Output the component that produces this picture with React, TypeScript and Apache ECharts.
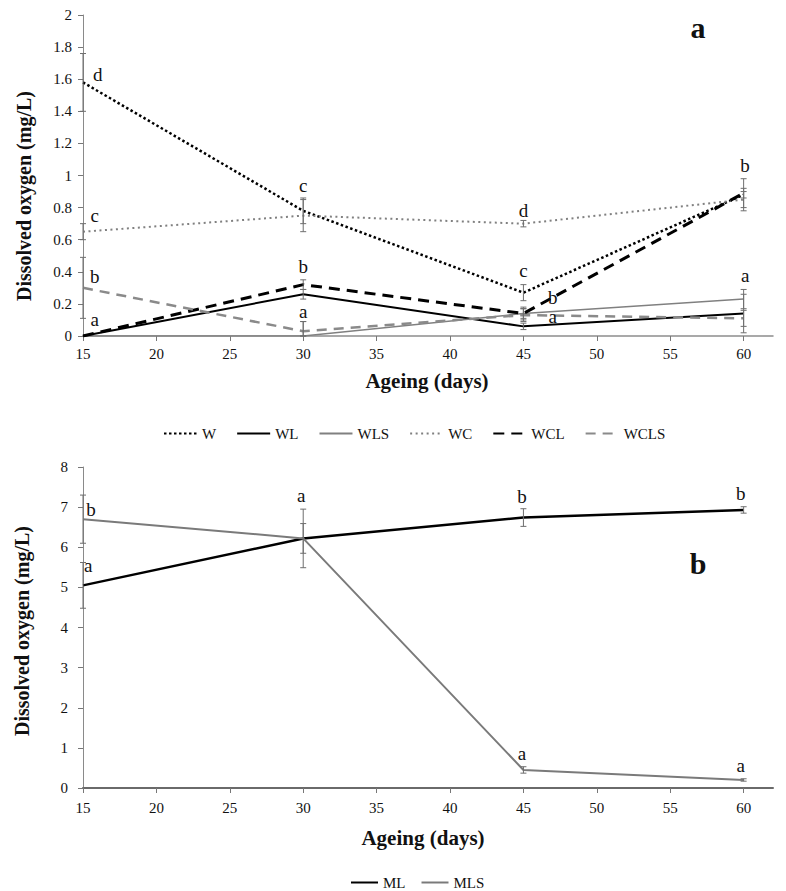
import React, { useEffect, useRef } from "react";
import * as echarts from "echarts";

// ---------- data ----------
const days = [15, 30, 45, 60];
const xTicks = [15, 20, 25, 30, 35, 40, 45, 50, 55, 60];

// panel a
const W = [1.58, 0.78, 0.27, 0.88];
const W_ERR = [0.18, 0.08, 0.05, 0.1];
const WL = [0, 0.26, 0.06, 0.14];
const WL_ERR = [0, 0.03, 0.02, 0.12];
const WLS = [0, 0, 0.14, 0.23];
const WLS_ERR = [0, 0.09, 0.03, 0.06];
const WC = [0.65, 0.75, 0.7, 0.85];
const WC_ERR = [0.05, 0.1, 0.02, 0.05];
const WCL = [0, 0.32, 0.14, 0.89];
const WCL_ERR = [0, 0.03, 0.04, 0.03];
const WCLS = [0.3, 0.03, 0.13, 0.11];
const WCLS_ERR = [0.19, 0.06, 0.04, 0.05];

// panel b
const ML = [5.05, 6.22, 6.74, 6.93];
const ML_ERR = [0.57, 0.37, 0.22, 0.08];
const MLS = [6.7, 6.22, 0.45, 0.2];
const MLS_ERR = [0.6, 0.73, 0.08, 0.03];

// significance letters: [day, value, letter]
const lettersA: [number, number, string][] = [
  [16.0, 1.63, "d"], [15.8, 0.75, "c"], [15.8, 0.37, "b"], [15.8, 0.1, "a"],
  [30.0, 0.94, "c"], [30.0, 0.43, "b"], [30.0, 0.155, "a"],
  [45.0, 0.785, "d"], [45.0, 0.41, "c"], [47.0, 0.24, "b"], [47.0, 0.12, "a"],
  [60.1, 1.065, "b"], [60.1, 0.38, "a"],
];
const lettersB: [number, number, string][] = [
  [15.55, 6.94, "b"], [15.35, 5.55, "a"],
  [29.86, 7.29, "a"],
  [44.9, 7.26, "b"], [44.9, 0.85, "a"],
  [59.8, 7.34, "b"], [59.8, 0.57, "a"],
];

const SERIF = "Liberation Serif";
const INK = "#111";
const GRAY = "#808080";

const pts = (ys: number[]) => days.map((d, i) => [d, ys[i]]);
const errs = (ys: number[], es: number[]) => days.map((d, i) => [d, ys[i], es[i]]);

function errorRender(params: any, api: any) {
  const x = api.value(0);
  const y = api.value(1);
  const e = api.value(2);
  if (!e) return null;
  const top = api.coord([x, y + e]);
  const bot = api.coord([x, Math.max(0, y - e)]);
  const hw = 3;
  const style = { stroke: "#6e6e6e", lineWidth: 1 };
  return {
    type: "group",
    children: [
      { type: "line", shape: { x1: top[0], y1: top[1], x2: bot[0], y2: bot[1] }, style },
      { type: "line", shape: { x1: top[0] - hw, y1: top[1], x2: top[0] + hw, y2: top[1] }, style },
      { type: "line", shape: { x1: bot[0] - hw, y1: bot[1], x2: bot[0] + hw, y2: bot[1] }, style },
    ],
  };
}

function letterRender(params: any, api: any) {
  const p = api.coord([api.value(0), api.value(1)]);
  return {
    type: "text",
    x: p[0],
    y: p[1],
    style: {
      text: String(api.value(2)),
      fontSize: 19,
      fontFamily: SERIF,
      fill: INK,
      align: "center",
      verticalAlign: "middle",
    },
  };
}

function xAxisCfg(gridIndex: number, lineColor: string, lineWidth: number, margin: number) {
  return {
    type: "value",
    gridIndex,
    min: 15,
    max: 62,
    interval: 5,
    axisLine: { show: true, lineStyle: { color: lineColor, width: lineWidth } },
    axisTick: { show: true, length: 5, inside: false, customValues: xTicks, lineStyle: { color: "#777" } },
    axisLabel: {
      customValues: xTicks,
      margin,
      fontSize: 15,
      fontFamily: SERIF,
      color: INK,
      formatter: (v: number) => (v > 60 ? "" : String(v)),
    },
    splitLine: { show: false },
  };
}

function yAxisCfg(gridIndex: number, max: number, interval: number, margin: number) {
  return {
    type: "value",
    gridIndex,
    min: 0,
    max,
    interval,
    axisLine: { show: true, lineStyle: { color: "#8a8a8a", width: 1 } },
    axisTick: { show: true, length: 5, lineStyle: { color: "#777" } },
    axisLabel: {
      margin,
      fontSize: 15,
      fontFamily: SERIF,
      color: INK,
      formatter: (v: number) => String(+v.toFixed(1)),
    },
    splitLine: { show: false },
  };
}

function lineSeries(name: string, data: number[], color: string, width: number, type: any, gi: number) {
  return {
    name,
    type: "line",
    xAxisIndex: gi,
    yAxisIndex: gi,
    data: pts(data),
    symbol: "none",
    lineStyle: { color, width, type },
    itemStyle: { color },
    z: 3,
  };
}

function titleText(text: string, x: number, y: number, size: number, rotate: boolean) {
  return {
    type: "text",
    x,
    y,
    rotation: rotate ? Math.PI / 2 : 0,
    style: {
      text,
      fontSize: size,
      fontWeight: "bold",
      fontFamily: SERIF,
      fill: INK,
      align: "center",
      verticalAlign: "middle",
    },
  };
}

export default function App() {
  const ref = useRef<HTMLDivElement>(null);

  useEffect(() => {
    document.body.style.margin = "0";
    if (!ref.current) return;
    const chart = echarts.init(ref.current, undefined, { renderer: "svg" });

    const legendBase = {
      itemHeight: 14,
      itemStyle: { opacity: 0 },
      textStyle: { fontSize: 15, fontFamily: SERIF, color: INK },
    };

    const option: any = {
      animation: false,
      backgroundColor: "#fff",
      textStyle: { fontFamily: SERIF },
      grid: [
        { left: 83, right: 13, top: 15, height: 321 },
        { left: 83, right: 13, top: 467, height: 321 },
      ],
      xAxis: [xAxisCfg(0, "#8c8c8c", 1.5, 10), xAxisCfg(1, "#6a6a6a", 2, 12)],
      yAxis: [yAxisCfg(0, 2, 0.2, 11), yAxisCfg(1, 8, 1, 15)],
      legend: [
        {
          ...legendBase,
          data: ["W", "WL", "WLS", "WC", "WCL", "WCLS"],
          left: 158,
          top: 421,
          itemWidth: 33,
          itemGap: 20,
        },
        {
          ...legendBase,
          data: ["ML", "MLS"],
          left: 345,
          top: 870,
          itemWidth: 27,
          itemGap: 15,
        },
      ],
      series: [
        lineSeries("W", W, "#000", 2.5, [2.5, 2.5], 0),
        lineSeries("WL", WL, "#000", 2, "solid", 0),
        lineSeries("WLS", WLS, GRAY, 1.5, "solid", 0),
        lineSeries("WC", WC, GRAY, 2, [2, 3.5], 0),
        lineSeries("WCL", WCL, "#000", 3, [11, 7], 0),
        lineSeries("WCLS", WCLS, "#8a8a8a", 2.5, [10, 7], 0),
        lineSeries("ML", ML, "#000", 2.5, "solid", 1),
        lineSeries("MLS", MLS, "#7a7a7a", 2, "solid", 1),
        {
          type: "custom",
          xAxisIndex: 0,
          yAxisIndex: 0,
          renderItem: errorRender,
          data: [
            ...errs(W, W_ERR), ...errs(WL, WL_ERR), ...errs(WLS, WLS_ERR),
            ...errs(WC, WC_ERR), ...errs(WCL, WCL_ERR), ...errs(WCLS, WCLS_ERR),
          ],
          z: 4,
        },
        {
          type: "custom",
          xAxisIndex: 1,
          yAxisIndex: 1,
          renderItem: errorRender,
          data: [...errs(ML, ML_ERR), ...errs(MLS, MLS_ERR)],
          z: 4,
        },
        {
          type: "custom",
          xAxisIndex: 0,
          yAxisIndex: 0,
          renderItem: letterRender,
          data: lettersA,
          clip: false,
          z: 5,
        },
        {
          type: "custom",
          xAxisIndex: 1,
          yAxisIndex: 1,
          renderItem: letterRender,
          data: lettersB,
          clip: false,
          z: 5,
        },
      ],
      graphic: [
        titleText("Dissolved oxygen (mg/L)", 24, 196, 20, true),
        titleText("Dissolved oxygen (mg/L)", 22, 631, 20, true),
        titleText("Ageing (days)", 427, 381, 21, false),
        titleText("Ageing (days)", 423, 838, 21, false),
        titleText("a", 698, 27, 30, false),
        titleText("b", 698, 563, 30, false),
      ],
    };

    chart.setOption(option);
    return () => chart.dispose();
  }, []);

  return <div ref={ref} style={{ width: 786, height: 891 }} />;
}
